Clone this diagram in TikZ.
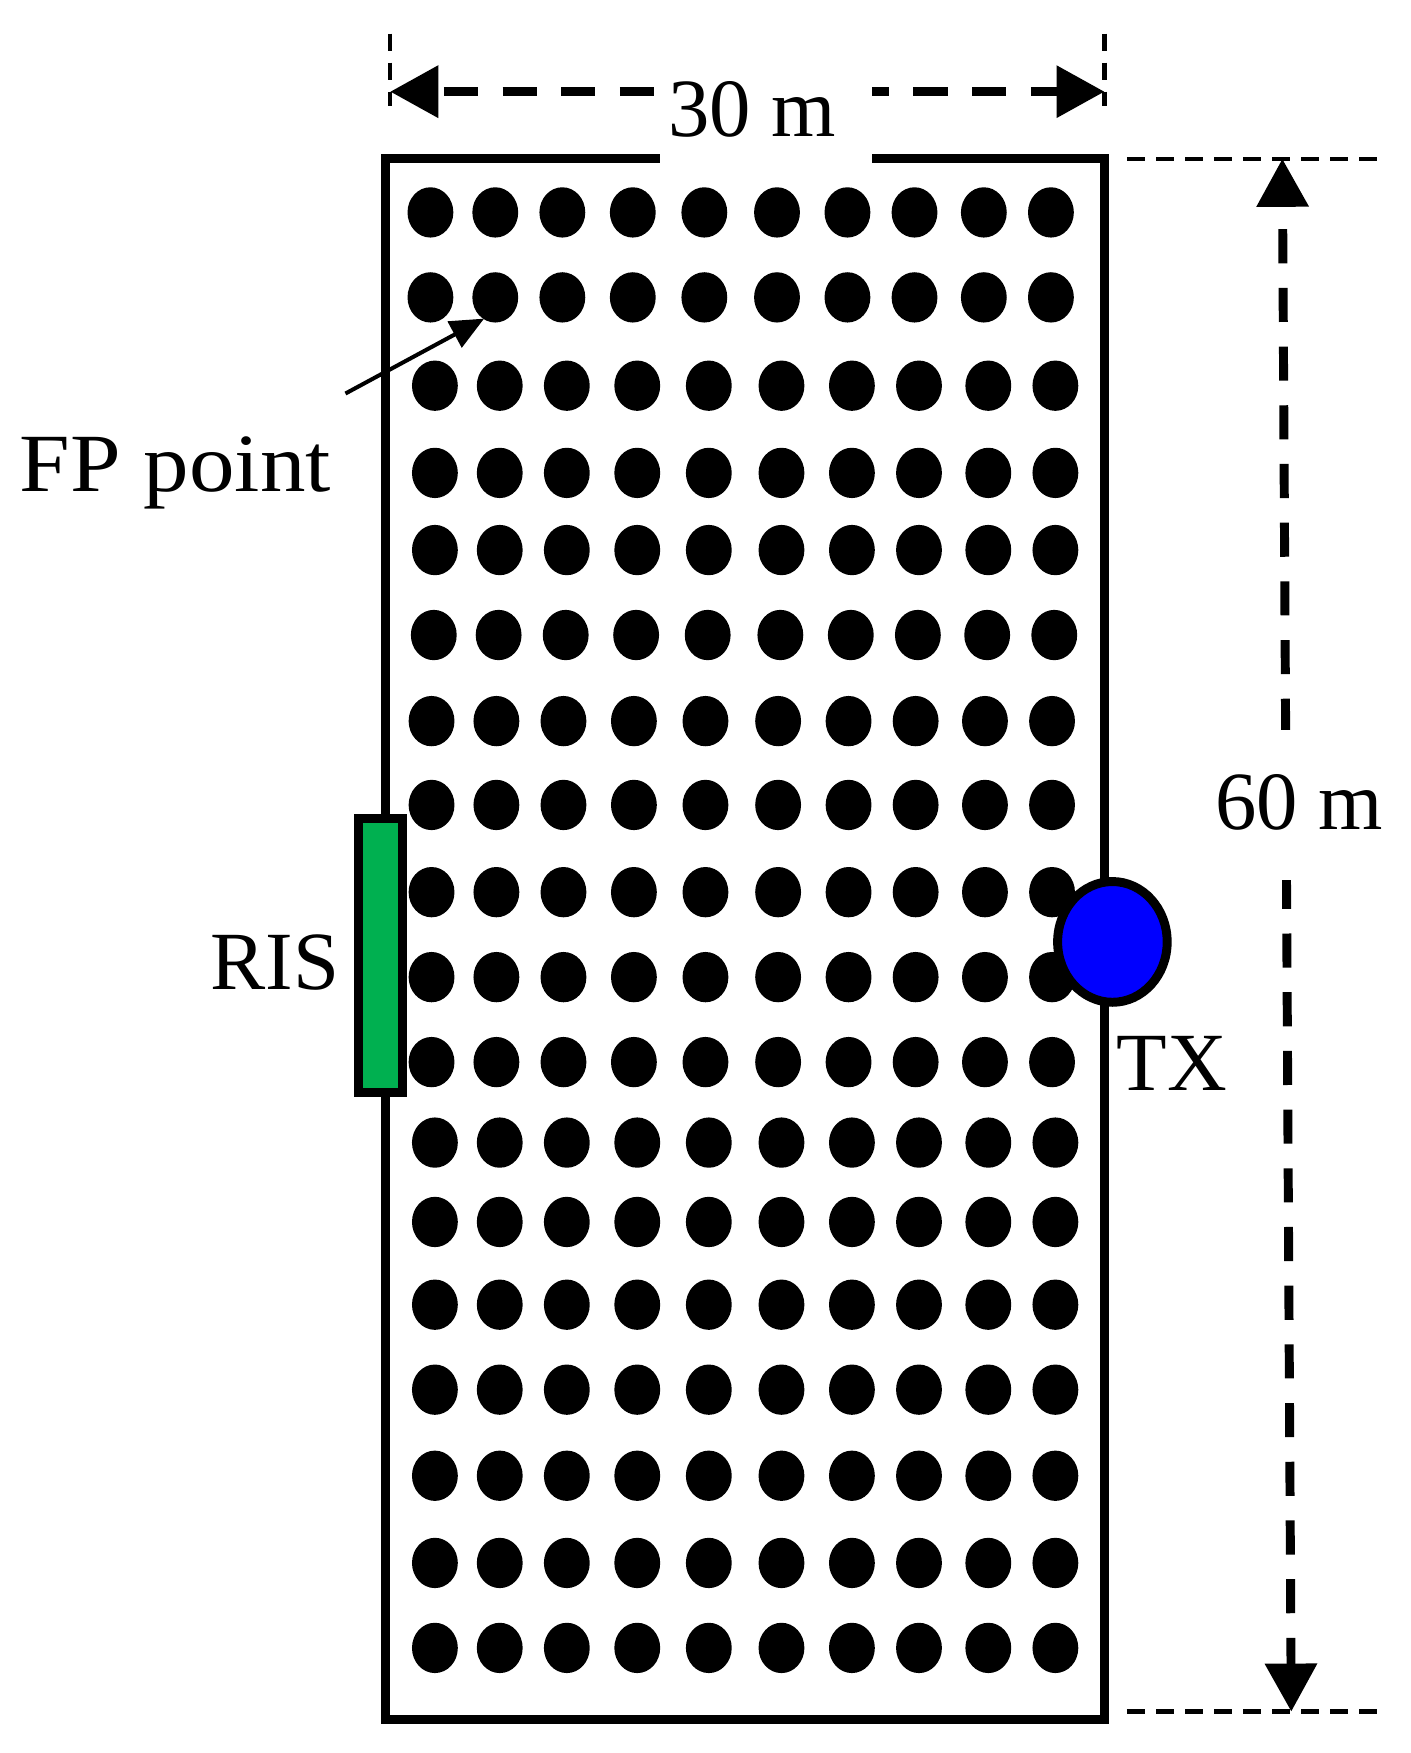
\documentclass[tikz,border=0pt]{standalone}
\usepackage{fontspec}
\setmainfont{Liberation Serif}
\usetikzlibrary{arrows.meta,shapes.geometric}
\definecolor{risgreen}{RGB}{0,176,80}
\definecolor{txblue}{RGB}{0,0,255}
\begin{document}
\begin{tikzpicture}[x=0.5pt,y=-0.5pt,
  frame/.style={line width=4pt},
  bigtip/.tip={Triangle[length=21.5pt,width=22.5pt]},
  smalltip/.tip={Triangle[length=15pt,width=13pt]},
  dimline/.style={line width=4pt, dash pattern=on 15.25pt off 11pt},
  thindash/.style={line width=2pt, dash pattern=on 8pt off 5pt},
  dot/.style={ellipse, fill=black, draw=none, inner sep=0pt, minimum width=20.5pt, minimum height=22.5pt},
  lbl/.style={font=\fontsize{37}{44}\selectfont, inner sep=0pt},
  risbox/.style={rectangle, draw=black, line width=4pt, fill=risgreen, inner sep=0pt, minimum width=19.5pt, minimum height=122.5pt},
  txnode/.style={ellipse, draw=black, line width=4pt, fill=txblue, inner sep=0pt, minimum width=49pt, minimum height=54pt}
]
\useasboundingbox (0,0) rectangle (1262,1568);

% frame
\coordinate (tl) at (345,142);
\coordinate (br) at (988,1538);
\draw[frame] (tl) rectangle (br);

% top dimension
\coordinate (wl) at (349,82);
\coordinate (wr) at (988,82);
\coordinate (wlt) at (349,30);
\coordinate (wlb) at (349,95);
\coordinate (wrt) at (988,30);
\coordinate (wrb) at (988,95);
\draw[thindash] (wlt) -- (wlb);
\draw[thindash] (wrt) -- (wrb);
\draw[dimline, dash phase=22.75pt, bigtip-bigtip] (wl) -- (wr);
\fill[white] (590,55) rectangle (780,150);
\node[lbl, anchor=base] (w) at (673,122) {30 m};

% right dimension
\coordinate (ht1) at (1008,142);
\coordinate (ht2) at (1232,142);
\coordinate (hb1) at (1008,1531);
\coordinate (hb2) at (1232,1531);
\draw[thindash] (ht1) -- (ht2);
\draw[thindash] (hb1) -- (hb2);
\coordinate (ht) at (1147,142);
\coordinate (hb) at (1155,1531);
\draw[dimline, dash phase=15.25pt, bigtip-bigtip] (ht) -- (hb);
\fill[white] (1120,653) rectangle (1180,787);
\node[lbl, anchor=base] (h) at (1162,742) {60 m};

% FP points
\foreach \yy/\bx [count=\r] in {190/385,266/385,345/389,423/389,492/389,568/388,645/386,720/386,798/386,874/386,950/386,1022/389,1093/389,1167/389,1243/389,1320/389,1398/389,1474/389}
  \foreach \dx [count=\c] in {0,58,118,181,245,310,373,433,495,555}
    \node[dot] (d\r-\c) at (\bx+\dx,\yy) {};

% FP point label and arrow
\node[lbl, anchor=base] (fp) at (157,440) {\scalebox{1.1}[1]{FP point}};
\coordinate (fpa) at (309,352);
\coordinate (fpb) at (433,285);
\draw[line width=1.8pt, -smalltip] (fpa) -- (fpb);

% RIS
\node[risbox] (ris) at (340.5,854.5) {};
\node[lbl, anchor=base] (rist) at (246,885) {RIS};

% TX
\node[txnode] (tx) at (995,842.5) {};
\node[lbl, anchor=base] (txt) at (1048,975) {TX};
\end{tikzpicture}
\end{document}
